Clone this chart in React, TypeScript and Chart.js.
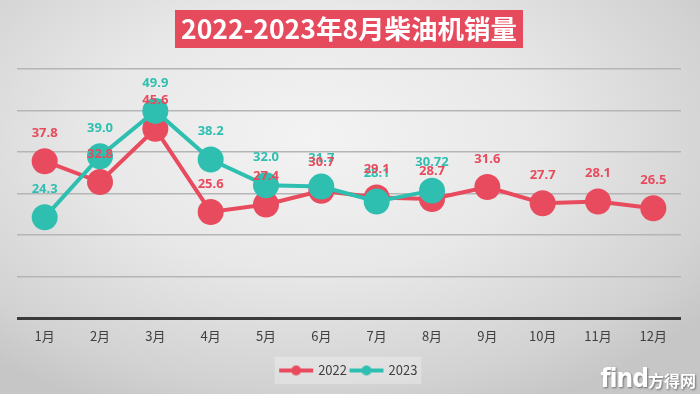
import React, { useEffect, useRef } from "react";
import { Chart, registerables } from "chart.js";

Chart.register(...registerables);

const titleText = "2022-2023年8月柴油机销量";
const categories = ["1月", "2月", "3月", "4月", "5月", "6月", "7月", "8月", "9月", "10月", "11月", "12月"];
const seriesNames = ["2022", "2023"];
const sales2022 = [37.8, 32.8, 45.6, 25.6, 27.4, 30.7, 29.1, 28.7, 31.6, 27.7, 28.1, 26.5];
const sales2023 = [24.3, 39.0, 49.9, 38.2, 32.0, 31.7, 28.1, 30.72];
const labels2022 = ["37.8", "32.8", "45.6", "25.6", "27.4", "30.7", "29.1", "28.7", "31.6", "27.7", "28.1", "26.5"];
const labels2023 = ["24.3", "39.0", "49.9", "38.2", "32.0", "31.7", "28.1", "30.72"];
const yMin = 0;
const yMax = 60;
const yStep = 10;

const RED = "#E84B5D";
const TEAL = "#2EBFB1";
const CJK = "'Noto Sans CJK SC', 'Noto Sans', sans-serif";

function makeLegendIcon(color: string) {
  const c = document.createElement("canvas");
  c.width = 36;
  c.height = 12;
  const ctx = c.getContext("2d")!;
  ctx.strokeStyle = color;
  ctx.lineWidth = 4;
  ctx.beginPath();
  ctx.moveTo(1, 6);
  ctx.lineTo(35, 6);
  ctx.stroke();
  ctx.fillStyle = color;
  ctx.beginPath();
  ctx.arc(18, 6, 5, 0, Math.PI * 2);
  ctx.fill();
  return c;
}

const decorPlugin = {
  id: "decor",
  beforeDraw(chart: any) {
    const ctx = chart.ctx;
    const tb = chart.titleBlock;
    if (tb) {
      const opts = chart.options.plugins.title;
      ctx.save();
      ctx.font = `${opts.font.weight} ${opts.font.size}px ${opts.font.family}`;
      const w = ctx.measureText(titleText).width;
      const cx = (tb.left + tb.right) / 2;
      const boxW = w + 12;
      ctx.fillStyle = "#E54A5D";
      ctx.fillRect(cx - boxW / 2, 10, boxW, 38);
      ctx.restore();
    }
    const lg = chart.legend;
    if (lg && lg.legendHitBoxes && lg.legendHitBoxes.length) {
      const hb = lg.legendHitBoxes;
      let l = Infinity, r = -Infinity, t = Infinity, b = -Infinity;
      hb.forEach((h: any) => {
        l = Math.min(l, h.left);
        r = Math.max(r, h.left + h.width);
        t = Math.min(t, h.top);
        b = Math.max(b, h.top + h.height);
      });
      ctx.save();
      ctx.fillStyle = "rgba(255,255,255,0.28)";
      ctx.fillRect(l - 6, t - 7, r - l + 10, b - t + 14);
      ctx.restore();
    }
  },
  afterDatasetsDraw(chart: any) {
    const ctx = chart.ctx;
    ctx.save();
    ctx.font = "bold 13px 'Noto Sans', sans-serif";
    ctx.textAlign = "center";
    ctx.textBaseline = "middle";
    const order = [1, 0];
    const texts = [labels2022, labels2023];
    const colors = [RED, TEAL];
    order.forEach((di) => {
      const meta = chart.getDatasetMeta(di);
      ctx.fillStyle = colors[di];
      meta.data.forEach((pt: any, i: number) => {
        ctx.fillText(texts[di][i], pt.x, pt.y - 28);
      });
    });
    ctx.restore();
  },
};

export default function App() {
  const canvasRef = useRef<HTMLCanvasElement | null>(null);

  useEffect(() => {
    if (!canvasRef.current) return;
    const icons = [makeLegendIcon(RED), makeLegendIcon(TEAL)];
    const chart = new Chart(canvasRef.current, {
      type: "line",
      data: {
        labels: categories,
        datasets: [
          {
            label: seriesNames[0],
            data: sales2022,
            borderColor: RED,
            backgroundColor: RED,
            pointBackgroundColor: RED,
            pointBorderColor: RED,
            borderWidth: 4,
            pointRadius: 13,
            pointBorderWidth: 0,
            pointHoverRadius: 13,
            tension: 0,
            order: 1,
            clip: false as any,
          },
          {
            label: seriesNames[1],
            data: sales2023,
            borderColor: TEAL,
            backgroundColor: TEAL,
            pointBackgroundColor: TEAL,
            pointBorderColor: TEAL,
            borderWidth: 4,
            pointRadius: 13,
            pointBorderWidth: 0,
            pointHoverRadius: 13,
            tension: 0,
            order: 0,
            clip: false as any,
          },
        ],
      },
      options: {
        animation: false,
        responsive: false,
        maintainAspectRatio: false,
        events: [],
        layout: { padding: { left: 17, right: 19, top: 0, bottom: 7 } },
        scales: {
          x: {
            offset: true,
            grid: { display: false, drawTicks: false },
            border: { display: false },
            ticks: {
              color: "#404040",
              padding: 10,
              font: { size: 13, family: CJK },
            },
            afterFit: (s: any) => {
              s.height += 6;
            },
          },
          y: {
            min: yMin,
            max: yMax,
            border: { display: false },
            ticks: { display: false, stepSize: yStep },
            grid: {
              drawTicks: false,
              color: (c: any) => (c.tick && c.tick.value === 0 ? "#3a3a3a" : "#b5b5b5"),
              lineWidth: (c: any) => (c.tick && c.tick.value === 0 ? 3 : 1.5),
            },
          },
        },
        plugins: {
          title: {
            display: true,
            text: titleText,
            color: "#ffffff",
            font: { size: 26.5, weight: "bold", family: CJK, lineHeight: 1.2 },
            padding: { top: 13.1, bottom: 24 },
          },
          legend: {
            display: true,
            position: "bottom",
            labels: {
              usePointStyle: true,
              pointStyleWidth: 31,
              padding: 4,
              color: "#404040",
              font: { size: 13, family: CJK },
              generateLabels: (ch: any) => {
                const items = (Chart.defaults.plugins.legend.labels as any).generateLabels(ch);
                return items
                  .sort((a: any, b: any) => a.datasetIndex - b.datasetIndex)
                  .map((it: any) => ({ ...it, pointStyle: icons[it.datasetIndex] }));
              },
            },
          },
          tooltip: { enabled: false },
        },
      },
      plugins: [decorPlugin],
    });
    return () => chart.destroy();
  }, []);

  return (
    <div
      style={{
        position: "fixed",
        left: 0,
        top: 0,
        width: 700,
        height: 394,
        overflow: "hidden",
        background:
          "radial-gradient(ellipse 70% 75% at 45% 35%, #f3f3f3 0%, #e8e8e8 45%, #d2d2d2 85%, #c6c6c6 100%)",
      }}
    >
      <canvas ref={canvasRef} width={700} height={394} style={{ display: "block", width: 700, height: 394 }} />
      <div
        style={{
          position: "absolute",
          right: 4,
          bottom: 3,
          color: "#ffffff",
          fontFamily: CJK,
          fontWeight: "bold",
          textShadow: "1px 1px 2px rgba(0,0,0,0.45)",
          lineHeight: 1,
          whiteSpace: "nowrap",
        }}
      >
        <span style={{ fontSize: 26, fontFamily: "'DejaVu Sans Condensed', 'DejaVu Sans', sans-serif", letterSpacing: -1 }}>find</span>
        <span style={{ fontSize: 16 }}>方得网</span>
      </div>
    </div>
  );
}
